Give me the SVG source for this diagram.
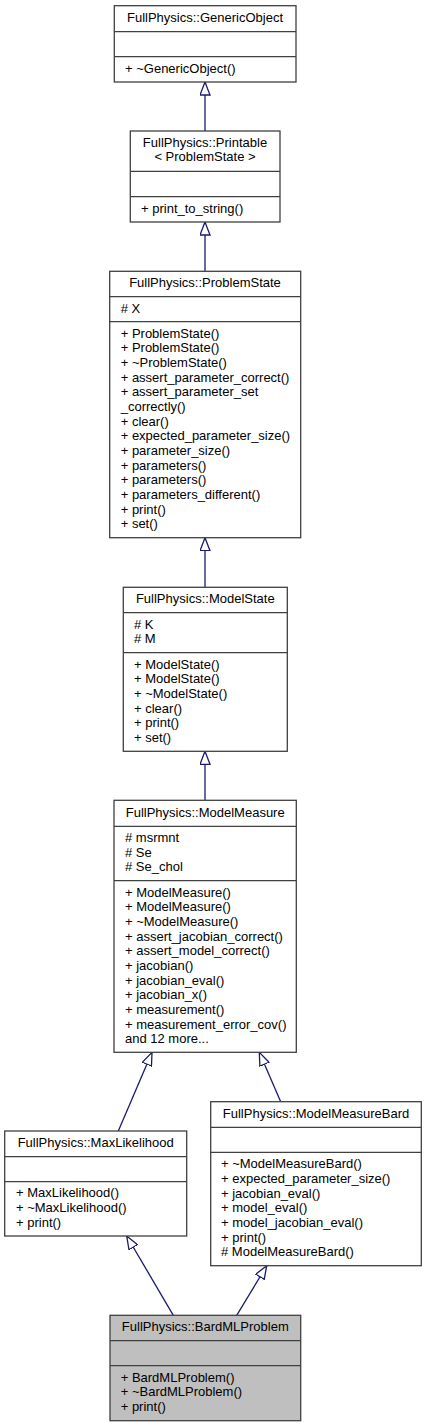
<svg xmlns="http://www.w3.org/2000/svg" width="427" height="1427" viewBox="0 0 427 1427">
<style>
.box{fill:#ffffff;stroke:#404040;stroke-width:1.3}
.sel{fill:#bfbfbf;stroke:#404040;stroke-width:1.3}
.div{stroke:#404040;stroke-width:1.3}
text{font-family:"Liberation Sans",Arial,Helvetica,sans-serif;font-size:13px;fill:#000000}
.t{text-anchor:middle}
.edge{stroke:#191970;stroke-width:1.3;fill:none;marker-end:url(#inh)}
</style>
<defs>
<marker id="inh" markerUnits="userSpaceOnUse" viewBox="0 0 14 11" refX="13.5" refY="5.5" markerWidth="14" markerHeight="11" orient="auto">
<path d="M0.5,0.5 L13.5,5.5 L0.5,10.5 Z" fill="#ffffff" stroke="#191970" stroke-width="1.3"/>
</marker>
</defs>
<rect width="427" height="1427" fill="#ffffff"/>
<g id="connectors">
<line class="edge" x1="205" y1="131" x2="205" y2="82"/>
<line class="edge" x1="205" y1="271.3" x2="205" y2="222"/>
<line class="edge" x1="205" y1="587.3" x2="205" y2="537.7"/>
<line class="edge" x1="205" y1="800.3" x2="205" y2="751.3"/>
<line class="edge" x1="118.3" y1="1131" x2="152" y2="1052.3"/>
<line class="edge" x1="280.7" y1="1101.7" x2="259.3" y2="1052.3"/>
<line class="edge" x1="173.3" y1="1315.3" x2="126.7" y2="1236"/>
<line class="edge" x1="236.7" y1="1315.3" x2="266.7" y2="1265.7"/>
</g>
<g id="GenericObject">
<rect class="box" x="114.3" y="5.7" width="181.7" height="76.3"/>
<line class="div" x1="114.3" y1="31.7" x2="296" y2="31.7"/>
<line class="div" x1="114.3" y1="56.7" x2="296" y2="56.7"/>
<text class="t" x="205" y="21.7">FullPhysics::GenericObject</text>
<text x="125" y="72.7">+ ~GenericObject()</text>
</g>
<g id="Printable">
<rect class="box" x="130.3" y="131" width="149.7" height="91"/>
<line class="div" x1="130.3" y1="171.3" x2="280" y2="171.3"/>
<line class="div" x1="130.3" y1="196.7" x2="280" y2="196.7"/>
<text class="t" x="205" y="146.7">FullPhysics::Printable</text>
<text class="t" x="205" y="161.3">&lt; ProblemState &gt;</text>
<text x="141" y="212.7">+ print_to_string()</text>
</g>
<g id="ProblemState">
<rect class="box" x="109.7" y="271.3" width="191" height="266.4"/>
<line class="div" x1="109.7" y1="296.7" x2="300.7" y2="296.7"/>
<line class="div" x1="109.7" y1="321.7" x2="300.7" y2="321.7"/>
<text class="t" x="205" y="286.7">FullPhysics::ProblemState</text>
<text x="120.7" y="312.7"># X</text>
<text x="120.7" y="337.7">+ ProblemState()</text>
<text x="120.7" y="352.4">+ ProblemState()</text>
<text x="120.7" y="367">+ ~ProblemState()</text>
<text x="120.7" y="381.7">+ assert_parameter_correct()</text>
<text x="120.7" y="396.3">+ assert_parameter_set</text>
<text x="120.7" y="411">_correctly()</text>
<text x="120.7" y="425.7">+ clear()</text>
<text x="120.7" y="440.3">+ expected_parameter_size()</text>
<text x="120.7" y="455">+ parameter_size()</text>
<text x="120.7" y="469.6">+ parameters()</text>
<text x="120.7" y="484.3">+ parameters()</text>
<text x="120.7" y="499">+ parameters_different()</text>
<text x="120.7" y="513.6">+ print()</text>
<text x="120.7" y="528.3">+ set()</text>
</g>
<g id="ModelState">
<rect class="box" x="123.3" y="587.3" width="164" height="164"/>
<line class="div" x1="123.3" y1="612.7" x2="287.3" y2="612.7"/>
<line class="div" x1="123.3" y1="652.7" x2="287.3" y2="652.7"/>
<text class="t" x="205.3" y="602.5">FullPhysics::ModelState</text>
<text x="134" y="628.7"># K</text>
<text x="134" y="643"># M</text>
<text x="134" y="668.7">+ ModelState()</text>
<text x="134" y="683.3">+ ModelState()</text>
<text x="134" y="698">+ ~ModelState()</text>
<text x="134" y="712.7">+ clear()</text>
<text x="134" y="727.3">+ print()</text>
<text x="134" y="742">+ set()</text>
</g>
<g id="ModelMeasure">
<rect class="box" x="114" y="800.3" width="182.3" height="252"/>
<line class="div" x1="114" y1="826.3" x2="296.3" y2="826.3"/>
<line class="div" x1="114" y1="880.7" x2="296.3" y2="880.7"/>
<text class="t" x="205.2" y="816.7">FullPhysics::ModelMeasure</text>
<text x="125" y="842"># msrmnt</text>
<text x="125" y="856.7"># Se</text>
<text x="125" y="870.7"># Se_chol</text>
<text x="125" y="896.7">+ ModelMeasure()</text>
<text x="125" y="911.3">+ ModelMeasure()</text>
<text x="125" y="926">+ ~ModelMeasure()</text>
<text x="125" y="940.7">+ assert_jacobian_correct()</text>
<text x="125" y="955.3">+ assert_model_correct()</text>
<text x="125" y="970">+ jacobian()</text>
<text x="125" y="984.7">+ jacobian_eval()</text>
<text x="125" y="999.3">+ jacobian_x()</text>
<text x="125" y="1014">+ measurement()</text>
<text x="125" y="1028.7">+ measurement_error_cov()</text>
<text x="125" y="1043">and 12 more...</text>
</g>
<g id="MaxLikelihood">
<rect class="box" x="4.7" y="1131" width="182" height="105"/>
<line class="div" x1="4.7" y1="1156.7" x2="186.7" y2="1156.7"/>
<line class="div" x1="4.7" y1="1181.7" x2="186.7" y2="1181.7"/>
<text class="t" x="95.7" y="1146.7">FullPhysics::MaxLikelihood</text>
<text x="16" y="1197.3">+ MaxLikelihood()</text>
<text x="16" y="1212">+ ~MaxLikelihood()</text>
<text x="16" y="1226.7">+ print()</text>
</g>
<g id="ModelMeasureBard">
<rect class="box" x="210.7" y="1101.7" width="210.6" height="164"/>
<line class="div" x1="210.7" y1="1127.3" x2="421.3" y2="1127.3"/>
<line class="div" x1="210.7" y1="1152.3" x2="421.3" y2="1152.3"/>
<text class="t" x="316" y="1117.7">FullPhysics::ModelMeasureBard</text>
<text x="221" y="1168.3">+ ~ModelMeasureBard()</text>
<text x="221" y="1183">+ expected_parameter_size()</text>
<text x="221" y="1197.7">+ jacobian_eval()</text>
<text x="221" y="1212.3">+ model_eval()</text>
<text x="221" y="1227">+ model_jacobian_eval()</text>
<text x="221" y="1241.7">+ print()</text>
<text x="221" y="1256.3"># ModelMeasureBard()</text>
</g>
<g id="BardMLProblem">
<rect class="sel" x="110" y="1315.3" width="190.7" height="105.4"/>
<line class="div" x1="110" y1="1340.7" x2="300.7" y2="1340.7"/>
<line class="div" x1="110" y1="1365.7" x2="300.7" y2="1365.7"/>
<text class="t" x="205.3" y="1330.7">FullPhysics::BardMLProblem</text>
<text x="120.7" y="1381.7">+ BardMLProblem()</text>
<text x="120.7" y="1396.3">+ ~BardMLProblem()</text>
<text x="120.7" y="1411">+ print()</text>
</g>
</svg>
